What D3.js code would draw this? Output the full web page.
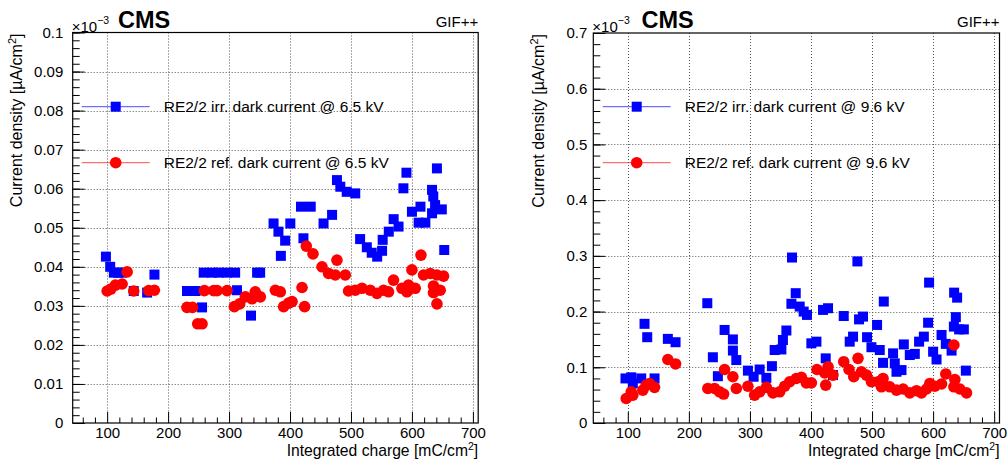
<!DOCTYPE html>
<html><head><meta charset="utf-8">
<script src="https://cdn.jsdelivr.net/npm/d3@7"></script>
<style>
body{margin:0;background:#fff}
svg text{font-family:"Liberation Sans",Arial,Helvetica,sans-serif;fill:#000}
</style>
</head><body>
<svg id="c" width="1007" height="463"></svg>
<script>
// ---------------- data ----------------
const xMajorTicks = [100, 200, 300, 400, 500, 600, 700];
const leftYTicks = [0, 0.01, 0.02, 0.03, 0.04, 0.05, 0.06, 0.07, 0.08, 0.09, 0.1];
const rightYTicks = [0, 0.1, 0.2, 0.3, 0.4, 0.5, 0.6, 0.7];
const xTitle = "Integrated charge [mC/cm";
const yTitle = "Current density [µA/cm";
const leftLabels = ["RE2/2 irr. dark current @ 6.5 kV", "RE2/2 ref. dark current @ 6.5 kV"];
const rightLabels = ["RE2/2 irr. dark current @ 9.6 kV", "RE2/2 ref. dark current @ 9.6 kV"];

// [integrated charge (mC/cm2), current density (x1e-3 uA/cm2)]
const leftIrr = [[98,0.0426],[105,0.040],[111,0.0385],[118,0.0385],[124,0.0385],[143.6,0.0338],[165.6,0.0334],[177.6,0.038],
 [231,0.0338],[245,0.0338],[255.7,0.0296],[258.4,0.0385],[272,0.0385],[283,0.0385],[296.6,0.0385],[310,0.0385],[313,0.034],
 [336,0.0275],[346,0.0385],[351,0.0385],[373,0.0511],[381,0.049],[385,0.0428],[392,0.0467],[400.5,0.0511],[418,0.0554],
 [422,0.0473],[434,0.0554],[455,0.0511],[469,0.0533],[477,0.0622],[482.5,0.0605],[493,0.0592],[507,0.0588],[515,0.0471],
 [526,0.045],[534,0.0436],[543,0.0426],[551,0.0441],[552,0.0469],[562,0.049],[570,0.0522],[578,0.0503],[586,0.0601],
 [591,0.0641],[600,0.0541],[611,0.0513],[614,0.0554],[622,0.0513],[633,0.0597],[635,0.058],[638,0.0558],[633,0.0537],
 [641,0.0652],[649,0.0547],[653,0.0443]];
const leftRef = [[100,0.0338],[106,0.0343],[113.6,0.0353],[124.6,0.0356],[132.8,0.0387],[143.6,0.0338],[168.2,0.0339],[177.5,0.034],
 [231,0.0296],[240,0.0296],[248.5,0.0254],[255.7,0.0254],[259.5,0.0339],[274.8,0.0339],[280.3,0.0339],[296.7,0.0339],
 [308.7,0.0298],[317.4,0.0305],[326.7,0.0323],[337.7,0.0318],[343,0.0336],[351.3,0.0323],[375.9,0.034],[384.1,0.0336],
 [389.5,0.0298],[397.7,0.0307],[403.3,0.0311],[419.7,0.0347],[423.9,0.0298],[426.7,0.0453],[437.7,0.0433],[452.5,0.04],
 [463.3,0.0383],[474.3,0.0379],[477,0.0417],[490.7,0.0379],[496,0.0338],[507,0.034],[518,0.0345],[531.6,0.034],
 [542.6,0.0332],[553.5,0.034],[561.6,0.0336],[569.8,0.0366],[583.6,0.0345],[591.8,0.0336],[594.4,0.0353],[600,0.0392],
 [605.4,0.0345],[614.8,0.043],[619,0.0379],[630,0.0383],[635.4,0.0351],[635.4,0.0334],[641,0.0379],[641,0.0305],
 [646.4,0.034],[651.8,0.0376]];
const rightIrr = [[96.2,0.080],[105.6,0.082],[108.2,0.071],[122,0.080],[127.4,0.178],[131.8,0.154],[143.8,0.080],[165.6,0.151],
 [178.2,0.145],[230.2,0.215],[239.3,0.118],[247.5,0.084],[258.5,0.167],[272.1,0.150],[272.1,0.130],[277.7,0.113],[296.7,0.094],
 [306,0.083],[315.9,0.096],[326.9,0.081],[336,0.102],[340.5,0.131],[351.5,0.132],[354,0.149],[359.7,0.166],[367.9,0.214],
 [368.9,0.297],[375,0.233],[381.5,0.209],[388,0.200],[393.4,0.194],[400.6,0.143],[408.9,0.146],[419.7,0.203],[424.1,0.116],
 [427.9,0.206],[436,0.086],[453.6,0.192],[463.4,0.146],[468.9,0.155],[476,0.290],[478.7,0.186],[485.2,0.191],[491.8,0.154],
 [499,0.136],[508.2,0.176],[512.6,0.131],[518,0.108],[519.2,0.218],[534.4,0.125],[537.2,0.107],[540,0.092],[548.2,0.095],
 [552,0.141],[561.8,0.122],[570,0.124],[577,0.146],[584.8,0.155],[591.8,0.180],[593.4,0.252],[600,0.128],[605.6,0.114],
 [613.8,0.158],[620.8,0.142],[630.2,0.130],[634.4,0.234],[639.3,0.225],[637.2,0.190],[634,0.173],[642.6,0.168],[650.3,0.168],
 [653.6,0.094]];
const rightRef = [[97.4,0.044],[105.6,0.056],[108.2,0.050],[124.6,0.059],[130.2,0.068],[135.6,0.071],[143.8,0.064],[165.6,0.114],
 [178.2,0.106],[231.1,0.062],[242.1,0.062],[250.3,0.056],[256.9,0.052],[258.5,0.096],[272.1,0.083],[277.7,0.062],[296.7,0.066],
 [307.7,0.050],[315.9,0.056],[326.9,0.064],[337.7,0.054],[348.7,0.056],[356.9,0.066],[365.1,0.074],[376,0.080],[384.3,0.082],
 [392.4,0.072],[400.6,0.072],[409.8,0.096],[422.5,0.090],[424.1,0.068],[427.9,0.101],[436,0.086],[453.6,0.110],[462.3,0.096],
 [470,0.083],[477,0.116],[482.6,0.092],[490.8,0.086],[499,0.074],[509.8,0.074],[515.4,0.065],[518,0.080],[529,0.065],
 [540,0.059],[550.8,0.061],[561.8,0.054],[572.7,0.058],[581,0.054],[589.2,0.061],[594.6,0.071],[602.8,0.066],[613.8,0.070],
 [620.8,0.088],[634,0.140],[635.6,0.078],[634,0.065],[643.8,0.061],[654.7,0.054]];

// ---------------- drawing ----------------
const svg = d3.select("#c");
const xDomain = [43.5, 708.7];
const fmtY = d => d === 0 ? "0" : d3.format("~g")(+d.toFixed(3));

function panel(cfg) {
  const g = svg.append("g");
  const x = d3.scaleLinear().domain(xDomain).range([cfg.x0, cfg.x1]);
  const y = d3.scaleLinear().domain([0, cfg.yMax]).range([cfg.y1, cfg.y0]);
  const left = cfg.x0, bottom = cfg.y1;

  // grid
  const grid = g.append("g").attr("stroke", "#555").attr("stroke-width", 1).attr("stroke-dasharray", "1,2");
  grid.selectAll(".gx").data(xMajorTicks).join("line")
    .attr("x1", d => Math.round(x(d)) + 0.5).attr("x2", d => Math.round(x(d)) + 0.5)
    .attr("y1", cfg.y0).attr("y2", cfg.y1);
  grid.selectAll(".gy").data(cfg.yTicks.filter(d => d > 0 && d < cfg.yMax)).join("line")
    .attr("y1", d => Math.round(y(d)) + 0.5).attr("y2", d => Math.round(y(d)) + 0.5)
    .attr("x1", cfg.x0).attr("x2", cfg.x1);

  // minor ticks
  const xMinor = d3.range(60, 701, 20).filter(v => v % 100 !== 0);
  g.append("g").attr("transform", `translate(0,${bottom})`)
    .call(d3.axisBottom(x).tickValues(xMinor).tickSize(-5.5).tickFormat(""))
    .call(a => a.select(".domain").remove());
  const yMinor = d3.range(0, cfg.yMax + 1e-9, cfg.yMinorStep);
  g.append("g").attr("transform", `translate(${left},0)`)
    .call(d3.axisLeft(y).tickValues(yMinor).tickSize(-7).tickFormat(""))
    .call(a => a.select(".domain").remove());

  // major axes
  const ax = g.append("g").attr("transform", `translate(0,${bottom})`)
    .call(d3.axisBottom(x).tickValues(xMajorTicks).tickSize(-11).tickPadding(4.6).tickFormat(d3.format("d")));
  ax.select(".domain").remove();
  ax.selectAll("text").attr("font-size", 15).style("font-family", "'Liberation Sans',Arial,sans-serif");
  const ay = g.append("g").attr("transform", `translate(${left},0)`)
    .call(d3.axisLeft(y).tickValues(cfg.yTicks).tickSize(-12).tickPadding(cfg.labelPad).tickFormat(fmtY));
  ay.select(".domain").remove();
  ay.selectAll("text").attr("font-size", 15).style("font-family", "'Liberation Sans',Arial,sans-serif");
  g.selectAll(".tick line").attr("stroke", "#000");

  // frame
  g.append("rect").attr("x", cfg.x0).attr("y", cfg.y0)
    .attr("width", cfg.x1 - cfg.x0).attr("height", cfg.y1 - cfg.y0)
    .attr("fill", "none").attr("stroke", "#000").attr("stroke-width", 1.2);

  // data
  g.append("g").selectAll("rect").data(cfg.irr).join("rect")
    .attr("x", d => x(d[0]) - 5).attr("y", d => y(d[1]) - 5)
    .attr("width", 10).attr("height", 10).attr("fill", "#0000ff");
  g.append("g").selectAll("circle").data(cfg.ref).join("circle")
    .attr("cx", d => x(d[0])).attr("cy", d => y(d[1])).attr("r", 5.8).attr("fill", "#ff0000");

  // legend
  const legY = [106.7, 162.7];
  const cols = ["#0000ff", "#ff0000"];
  legY.forEach((ly, i) => {
    g.append("line").attr("x1", cfg.legX0).attr("x2", cfg.legX0 + 68).attr("y1", ly).attr("y2", ly)
      .attr("stroke", cols[i]).attr("stroke-width", 1).attr("stroke-opacity", 0.7);
    const mx = cfg.legX0 + 34;
    if (i === 0) g.append("rect").attr("x", mx - 5).attr("y", ly - 5).attr("width", 10).attr("height", 10).attr("fill", cols[0]);
    else g.append("circle").attr("cx", mx).attr("cy", ly).attr("r", 5.8).attr("fill", cols[1]);
    g.append("text").attr("x", cfg.legX0 + 82).attr("y", ly + 5.6).attr("font-size", 15.5).text(cfg.labels[i]);
  });

  // exponent
  const ex = g.append("text").attr("x", cfg.x0 - 1).attr("y", 32).attr("font-size", 15).text("×10");
  ex.append("tspan").attr("dy", -8).attr("font-size", 10.5).text("−3");

  // CMS
  g.append("text").attr("x", cfg.cmsX).attr("y", 27.5).attr("font-size", 23.5).attr("font-weight", "bold").text("CMS");
  // GIF++
  g.append("text").attr("x", cfg.x1).attr("y", 27).attr("text-anchor", "end").attr("font-size", 15).text("GIF++");

  // x title
  const xt = g.append("text").attr("x", cfg.x1).attr("y", 455.5).attr("text-anchor", "end").attr("font-size", 15.7).text(xTitle);
  xt.append("tspan").attr("dy", -5.5).attr("font-size", 10.5).text("2");
  xt.append("tspan").attr("dy", 5.5).text("]");

  // y title
  const yt = g.append("text").attr("transform", `translate(${cfg.yTitleX},${cfg.y0 + 1}) rotate(-90)`)
    .attr("text-anchor", "end").attr("font-size", 16).text(yTitle);
  yt.append("tspan").attr("dy", -6).attr("font-size", 11).text("2");
  yt.append("tspan").attr("dy", 6).text("]");
}

panel({x0: 72.7, x1: 478.2, y0: 32.5, y1: 423, yMax: 0.1, yTicks: leftYTicks, yMinorStep: 0.002,
  labelPad: 9.4, irr: leftIrr, ref: leftRef, labels: leftLabels, legX0: 81.7, cmsX: 118, yTitleX: 22});
panel({x0: 593.3, x1: 999.5, y0: 33, y1: 423, yMax: 0.7, yTicks: rightYTicks, yMinorStep: 0.02,
  labelPad: 6, irr: rightIrr, ref: rightRef, labels: rightLabels, legX0: 602.7, cmsX: 641.5, yTitleX: 544});
</script>
</body></html>
